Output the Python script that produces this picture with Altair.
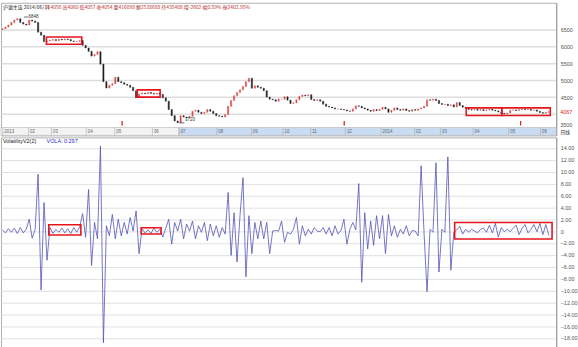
import altair as alt
import pandas as pd
import numpy as np

# ---------------- data ----------------
header_black = "沪银主连 2014/06/11"
header_red = "开4056 高4060 低4057 收4054 量416098 额2538688 持435408 增-2602 幅0.59% 振2402.95%"
vola_title = "VolatilityV2(2)"
vola_value = "VOLA: 0.297"

first_open = 6500
close = [6530, 6580, 6640, 6720, 6790, 6830, 6720, 6670, 6640, 6790, 6760, 6720, 6430, 6340, 6150,
         6170, 6190, 6210, 6180, 6220, 6200, 6230, 6210, 6170, 6150, 6160, 6180,
         6040, 5960, 5860, 5720, 5770, 5850, 5480, 4960, 4770, 4850, 4900, 5090, 4960, 4930, 4880, 4850, 4790, 4690, 4480,
         4590, 4620, 4600, 4640, 4610, 4590, 4620, 4580,
         4480, 4380, 4130, 3950, 3790, 3740, 3950, 3910, 3880, 3930, 4080, 4110, 4050, 4010, 4050, 4130, 4080, 4010,
         3950, 3930, 3910, 3980, 4225, 4400, 4540, 4640, 4715, 4815, 4960, 5060, 4765, 4835, 4795, 4765, 4690, 4500,
         4440, 4420, 4375, 4440,
         4440, 4510, 4410, 4310, 4330, 4420, 4520, 4560, 4540, 4570, 4430, 4400, 4420, 4380, 4290, 4225, 4205, 4180,
         4150, 4150, 4130, 4120, 4090, 4080, 4150, 4240, 4225, 4180, 4150, 4110, 4080, 4130, 4100, 4140, 4200, 4150,
         4050, 4110, 4180, 4130, 4110, 4150, 4100, 4080, 4130, 4110, 4150,
         4180, 4225, 4420, 4410, 4440, 4400, 4310, 4280, 4290, 4250, 4270, 4210, 4340, 4250, 4200, 4170,
         4130, 4120, 4140, 4110, 4130, 4100, 4120, 4140, 4110, 4090, 4060, 4020, 4000, 4030, 4110, 4120, 4100, 4130,
         4150, 4130, 4140, 4110, 4120, 4080, 4040, 4020, 4050, 4067]

vola = [0.2, -0.3, 0.4, -0.2, 0.5, -0.4, 0.6, -0.3, 0.3, 2.0, -1.2, 0.3, 9.6, -9.9, 4.8, -4.9,
        0.6, -0.4, 0.3, -0.2, 0.5, -0.3, 0.4, -0.4, 0.6, -0.2, 0.7,
        2.95, -1.05, 7.0, -5.8, 1.45, -1.3, 14.3, -18.8,
        0.9, -0.8, 2.8, -1.3, 2.0, -0.8, 1.45, -0.5, 2.3, 0.0, 3.4, -3.8,
        0.4, -0.3, 0.2, -0.4, 0.5, -0.2, 0.3,
        -1.0, 0.5, 2.0, -2.2, 1.45, 0.0, 2.0, -1.3, 1.2, 0.0, 1.7, -1.3, 0.9, -0.2, 1.45, -1.6, 1.2, -0.8, 0.9, -1.05,
        0.6, -0.5, 6.5, -4.1, 3.1, -5.2, 2.6, 9.0, -7.7, 2.6, -3.8, 1.45, -1.3, 1.7, -1.3, 1.45, -3.8, 0.0, 0.1, 0.0,
        1.7, -1.9, -0.2, -0.5, 0.3, 2.3, -2.2, 0.9, -0.8, 0.3, -0.5, 0.6, 0.0, -0.1, 0.6, -0.5, 0.6, -0.8, 0.9, -0.5,
        0.1, 2.0, -2.2, 0.3, 1.45, 0.2, 8.0, -8.6, 3.1, -3.0, 1.7, -2.4, 2.6, -1.3, 2.6, -3.8, 2.8, -0.8, 0.9, -1.05,
        0.3, -0.5, 0.9, -0.8, 0.1, 0.0, -0.8, 11.0, -0.5, -10.2, 0.3, -0.2, 11.5, -6.9, 0.3, -0.2, 12.5, -6.6, -0.2,
        0.2, 0.8, -0.5, 0.3, -0.2, 0.3, 0.0, -0.3, 0.3, 0.5, -0.2, 1.0, -0.3, 1.3, -1.0, 0.6, -0.1, 0.3, -0.1, 0.5,
        1.0, -0.6, 0.5, 1.1, -0.3, 0.3, 1.1, -0.1, 1.3, -0.6, 1.1, -0.7]

month_labels = ["2013", "02", "03", "04", "05", "06", "07", "08", "09", "10", "11", "12",
                "2014", "02", "03", "04", "05", "06"]
month_pos = [0.6, 9.3, 17.0, 28.7, 38.3, 51.0, 60.0, 72.7, 84.3, 95.0, 104.3, 116.0,
             128.0, 139.3, 148.0, 159.0, 171.0, 181.7]

price_ticks = [3500, 4000, 4500, 5000, 5500, 6000, 6500]
hidden_price_labels = [3500, 4000]
bottom_price_label = "3500"
vola_ticks = list(range(-18, 16, 2))

# highlighted boxes (slot index, value ranges)
top_box_x0 = [15.3, 45.9, 156.7, 168.7]
top_box_x1 = [27.2, 53.6, 168.7, 185.0]
top_box_hi = [6285, 4715, 4180, 4180]
top_box_lo = [6070, 4500, 3955, 3955]
bot_box_x0 = [16.1, 47.2, 152.8]
bot_box_x1 = [26.9, 53.9, 185.6]
bot_box_hi = [1.07, 0.57, 1.45]
bot_box_lo = [-0.67, -0.50, -1.33]

marker_idx = [40.8, 115.6, 175.0]
hi_label, hi_idx, hi_price = "6848", 7.7, 6880
lo_label, lo_idx, lo_price = "3720", 60.0, 3735
last_label, last_price = "4067", 4067

# ---------------- tables ----------------
n = len(close)
cd = pd.DataFrame({"i": np.arange(n), "close": close})
cd["open"] = [first_open] + close[:-1]
cd["x0"] = cd["i"] + 0.3
cd["x1"] = cd["i"] + 0.7
cd["dir"] = np.where(cd["close"] >= cd["open"], "up", "down")

vd = pd.DataFrame({"x": np.arange(n) + 0.5, "v": vola})
tb = pd.DataFrame({"x0": top_box_x0, "x1": top_box_x1, "hi": top_box_hi, "lo": top_box_lo})
bb = pd.DataFrame({"x0": bot_box_x0, "x1": bot_box_x1, "hi": bot_box_hi, "lo": bot_box_lo})
md = pd.DataFrame({"pos": month_pos, "label": month_labels})
band = pd.DataFrame({"b0": [0, month_pos[6]], "b1": [month_pos[6], 187], "fill": ["#f3f3f3", "#c9dcf2"]})
mk = pd.DataFrame({"x": marker_idx, "hi": [3790] * 3, "lo": [3660] * 3})
ann = pd.DataFrame({"x": [hi_idx + 1.6, lo_idx + 2.0], "p": [hi_price + 10, lo_price + 70],
                    "t": [hi_label, lo_label]})
annl = pd.DataFrame({"x0": [hi_idx, lo_idx], "x1": [hi_idx + 1.5, lo_idx + 1.8], "p": [hi_price, lo_price]})
last = pd.DataFrame({"p": [last_price], "t": [last_label]})

FONT = "Liberation Sans"
xS = alt.Scale(domain=[0, 187], nice=False, zero=False)
yP = alt.Scale(domain=[3362, 7303], nice=False, zero=False)
yV = alt.Scale(domain=[-19.72, 15.78], nice=False, zero=False)

hide_expr = " || ".join(f"datum.value == {v}" for v in hidden_price_labels)
p_axis = alt.Axis(orient="right", values=price_ticks, title=None, grid=True, gridColor="#dddddd",
                  gridWidth=1.5, ticks=False, domain=True, domainColor="#9a9a9a", labelFontSize=5.5,
                  labelColor="#555555", labelPadding=4, labelFont=FONT,
                  labelExpr=f"({hide_expr}) ? '' : format(datum.value, 'd')")
v_axis = alt.Axis(orient="right", values=vola_ticks, title=None, grid=True, gridColor="#e0e0e0",
                  gridWidth=1, ticks=False, domain=True, domainColor="#9a9a9a", labelFontSize=5.5,
                  labelColor="#555555", labelPadding=4, labelFont=FONT,
                  labelExpr="datum.value == 0 ? '0' : format(datum.value, '.2f')")


def X(f):
    return alt.X(f"{f}:Q", scale=xS, axis=None)


def PY(f):
    return alt.Y(f"{f}:Q", scale=yP, axis=p_axis)


def VY(f):
    return alt.Y(f"{f}:Q", scale=yV, axis=v_axis)


W = 561
UPDOWN = alt.Scale(domain=["up", "down"], range=["#dc4a4a", "#1e1e1e"])
# ---------------- top panel ----------------
band_l = alt.Chart(band).mark_rect(stroke="#b5b5b5", strokeWidth=0.6).encode(
    x=X("b0"), x2="b1:Q", y=alt.value(126), y2=alt.value(134), color=alt.Color("fill:N", scale=None))
sep_l = alt.Chart(md).mark_rule(color="#aaaaaa", strokeWidth=0.6).encode(
    x=X("pos"), y=alt.value(126), y2=alt.value(134))
mon_l = alt.Chart(md).mark_text(align="left", baseline="middle", fontSize=4.5, color="#666666",
                               dx=1.5, font=FONT).encode(x=X("pos"), y=alt.value(130.3), text="label:N")
candle_l = alt.Chart(cd).mark_rect(strokeWidth=0.5).encode(
    x=X("x0"), x2="x1:Q", y=PY("open"), y2="close:Q",
    color=alt.Color("dir:N", scale=UPDOWN, legend=None),
    stroke=alt.Stroke("dir:N", scale=UPDOWN, legend=None))
tbox_l = alt.Chart(tb).mark_rect(fill="white", fillOpacity=0, stroke="#e8141c", strokeWidth=1.6).encode(
    x=X("x0"), x2="x1:Q", y=PY("hi"), y2="lo:Q")
mk_l = alt.Chart(mk).mark_rule(color="#e02020", strokeWidth=1.3).encode(x=X("x"), y=PY("hi"), y2="lo:Q")
annl_l = alt.Chart(annl).mark_rule(color="#333333", strokeWidth=0.7).encode(x=X("x0"), x2="x1:Q", y=PY("p"))
ann_l = alt.Chart(ann).mark_text(align="left", baseline="middle", fontSize=4.5, color="#333333",
                                font=FONT).encode(x=X("x"), y=PY("p"), text="t:N")
last_l = alt.Chart(last).mark_text(align="left", baseline="middle", fontSize=5.5, color="#e02020",
                                   font=FONT).encode(x=alt.value(565), y=PY("p"), text="t:N")
p35 = alt.Chart(pd.DataFrame({"t": [bottom_price_label]})).mark_text(
    align="left", baseline="middle", fontSize=5.5, color="#555555", font=FONT).encode(
    x=alt.value(565), y=alt.value(123.5), text="t:N")
hdr1 = alt.Chart(pd.DataFrame({"t": [header_black]})).mark_text(
    align="left", baseline="middle", fontSize=5, color="#222222", font="Noto Sans CJK SC").encode(
    x=alt.value(2), y=alt.value(4.5), text="t:N")
hdr2 = alt.Chart(pd.DataFrame({"t": [header_red]})).mark_text(
    align="left", baseline="middle", fontSize=5, color="#b83030", font="Noto Sans CJK SC").encode(
    x=alt.value(45), y=alt.value(4.5), text="t:N")
day_l = alt.Chart(pd.DataFrame({"t": ["日线"]})).mark_text(
    align="left", baseline="middle", fontSize=5, color="#333333", font="Noto Sans CJK SC").encode(
    x=alt.value(565), y=alt.value(130.6), text="t:N")

top = alt.layer(candle_l, band_l, sep_l, mon_l, tbox_l, mk_l, annl_l, ann_l, last_l, p35, hdr1, hdr2, day_l
                ).properties(width=W, height=134)

# ---------------- bottom panel ----------------
line_l = alt.Chart(vd).mark_line(color="#5252b6", strokeWidth=0.8).encode(x=X("x"), y=VY("v"))
bbox_l = alt.Chart(bb).mark_rect(fill="white", fillOpacity=0, stroke="#e8141c", strokeWidth=1.6).encode(
    x=X("x0"), x2="x1:Q", y=VY("hi"), y2="lo:Q")
vt1 = alt.Chart(pd.DataFrame({"t": [vola_title]})).mark_text(
    align="left", baseline="middle", fontSize=5.5, color="#222222", font=FONT).encode(
    x=alt.value(2), y=alt.value(4), text="t:N")
vt2 = alt.Chart(pd.DataFrame({"t": [vola_value]})).mark_text(
    align="left", baseline="middle", fontSize=5.5, color="#2a2ac8", font=FONT).encode(
    x=alt.value(46), y=alt.value(4), text="t:N")

bottom = alt.layer(line_l, bbox_l, vt1, vt2).properties(width=W, height=213)

chart = alt.vconcat(top, bottom, spacing=0).properties(
    padding=0, background="white"
).configure_view(stroke="#b0b0b0", strokeWidth=1)

chart.save("out.html", embed_options={"renderer": "svg", "actions": False})
